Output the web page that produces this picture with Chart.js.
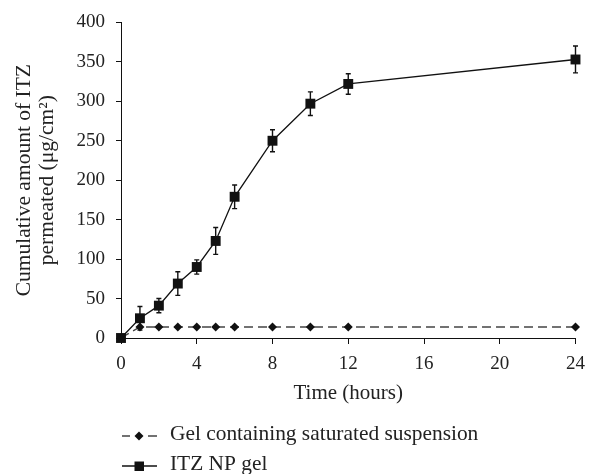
<!DOCTYPE html>
<html lang="en">
<head>
  <meta charset="UTF-8">
  <title>Cumulative amount of ITZ permeated</title>
  <style>
    * { margin: 0; padding: 0; box-sizing: border-box; }
    body { background: #fff; width: 594px; height: 474px; overflow: hidden; }
    #wrap { position: relative; width: 594px; height: 474px; }
  </style>
  <script src="https://cdn.jsdelivr.net/npm/chart.js"></script>
</head>
<body>
  <div id="wrap">
    <canvas id="permChart" width="594" height="474"></canvas>
  </div>

  <script>
    // time points (hours)
    const hours = [0, 1, 2, 3, 4, 5, 6, 8, 10, 12, 24];

    // Gel containing saturated suspension
    const gelValues = [0, 14, 14, 14, 14, 14, 14, 14, 14, 14, 14];

    // ITZ NP gel, mean and +/- error
    const itzValues = [0, 25, 41, 69, 90, 123, 179, 250, 297, 322, 353];
    const itzErrors = [0, 15, 9, 15, 9, 17, 15, 14, 15, 13, 17];

    const xTicks = [0, 4, 8, 12, 16, 20, 24];
    const legendLabels = ["Gel containing saturated suspension", "ITZ NP gel"];

    const serif = "'Liberation Serif', 'Times New Roman', serif";

    // vertical error bars with small caps
    const errorBars = {
      id: "errorBars",
      beforeDatasetsDraw(chart) {
        const ctx = chart.ctx;
        const xs = chart.scales.x, ys = chart.scales.y;
        ctx.save();
        ctx.strokeStyle = "#111";
        ctx.lineWidth = 1.4;
        for (let i = 0; i < hours.length; i++) {
          if (!itzErrors[i]) continue;
          const x = xs.getPixelForValue(hours[i]);
          const top = ys.getPixelForValue(itzValues[i] + itzErrors[i]);
          const bot = ys.getPixelForValue(itzValues[i] - itzErrors[i]);
          ctx.beginPath();
          ctx.moveTo(x, top); ctx.lineTo(x, bot);
          ctx.moveTo(x - 2.5, top); ctx.lineTo(x + 2.5, top);
          ctx.moveTo(x - 2.5, bot); ctx.lineTo(x + 2.5, bot);
          ctx.stroke();
        }
        ctx.restore();
      }
    };

    // two-row legend under the axis: line sample + marker + label
    const stackedLegend = {
      id: "stackedLegend",
      afterDraw(chart) {
        const ctx = chart.ctx;
        const rows = [
          { y: 440, dashed: true, color: "#444", shape: "diamond" },
          { y: 470, dashed: false, color: "#111", shape: "square" }
        ];
        ctx.save();
        rows.forEach((r, i) => {
          const cy = r.y - 4;
          ctx.strokeStyle = r.color;
          ctx.lineWidth = 1.4;
          ctx.beginPath();
          if (r.dashed) {
            // dash - marker - dash
            ctx.moveTo(122, cy); ctx.lineTo(130, cy);
            ctx.moveTo(148, cy); ctx.lineTo(157, cy);
          } else {
            ctx.moveTo(122, cy); ctx.lineTo(157, cy);
          }
          ctx.stroke();
          ctx.fillStyle = "#111";
          ctx.beginPath();
          if (r.shape === "diamond") {
            ctx.moveTo(139, cy - 4.5); ctx.lineTo(143.5, cy);
            ctx.lineTo(139, cy + 4.5); ctx.lineTo(134.5, cy);
            ctx.closePath();
          } else {
            ctx.rect(134.5, cy - 4.5, 9.5, 9.5);
          }
          ctx.fill();
          ctx.fillStyle = "#222";
          ctx.font = "21.4px " + serif;
          ctx.textBaseline = "alphabetic";
          ctx.textAlign = "left";
          ctx.fillText(legendLabels[i], 170, r.y);
        });
        ctx.restore();
      }
    };

    new Chart(document.getElementById("permChart").getContext("2d"), {
      type: "line",
      data: {
        datasets: [
          {
            label: legendLabels[1],
            data: hours.map((h, i) => ({ x: h, y: itzValues[i] })),
            borderColor: "#111",
            borderWidth: 1.3,
            pointStyle: "rect",
            pointRadius: 7,
            pointBackgroundColor: "#111",
            pointBorderColor: "#111",
            pointBorderWidth: 0,
            tension: 0,
            clip: false
          },
          {
            label: legendLabels[0],
            data: hours.map((h, i) => ({ x: h, y: gelValues[i] })),
            borderColor: "#444",
            borderWidth: 1.4,
            borderDash: [9, 5],
            pointStyle: "rectRot",
            pointRadius: 4.5,
            pointBackgroundColor: "#111",
            pointBorderColor: "#111",
            pointBorderWidth: 0,
            tension: 0,
            clip: false
          }
        ]
      },
      options: {
        responsive: false,
        animation: false,
        events: [],
        layout: { autoPadding: false, padding: { top: 19, left: 0, right: 11, bottom: 68 } },
        plugins: {
          legend: { display: false },
          tooltip: { enabled: false }
        },
        scales: {
          x: {
            type: "linear",
            min: 0,
            max: 24,
            afterBuildTicks: (s) => { s.ticks = xTicks.map(v => ({ value: v })); },
            afterFit: (s) => { s.height = 68; },
            grid: { display: true, drawOnChartArea: false, drawTicks: true, tickLength: 6, color: "#111" },
            border: { display: true, color: "#111", width: 1 },
            ticks: { color: "#222", padding: 9, maxRotation: 0, font: { family: serif, size: 19 } },
            title: {
              display: true,
              text: "Time (hours)",
              color: "#222",
              padding: { top: 0, bottom: 0 },
              font: { family: serif, size: 21, lineHeight: 1.2 }
            }
          },
          y: {
            min: 0,
            max: 400,
            ticks: { stepSize: 50, color: "#222", padding: 11, font: { family: serif, size: 19 } },
            afterFit: (s) => { s.width = 121; },
            grid: { display: true, drawOnChartArea: false, drawTicks: true, tickLength: 5, color: "#111" },
            border: { display: true, color: "#111", width: 1 },
            title: {
              display: true,
              text: ["Cumulative amount of ITZ", "permeated (\u03bcg/cm\u00b2)"],
              color: "#222",
              padding: { top: 13, bottom: 0 },
              font: { family: serif, size: 21.5, lineHeight: 1.05 }
            }
          }
        }
      },
      plugins: [errorBars, stackedLegend]
    });
  </script>
</body>
</html>
